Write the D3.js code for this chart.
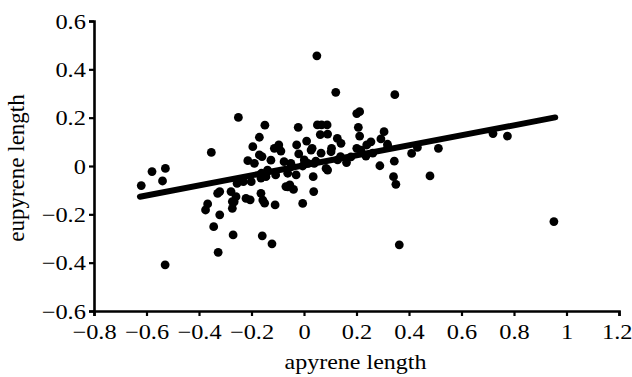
<!DOCTYPE html>
<html>
<head>
<meta charset="utf-8">
<script src="https://cdn.jsdelivr.net/npm/d3@7"></script>
<style>
  body { margin: 0; background: #fff; }
  svg text { font-family: "Liberation Serif", "Times New Roman", serif; fill: #000; }
</style>
</head>
<body>
<svg id="chart" width="632" height="377"></svg>
<script>
// apyrene vs eupyrene length (residuals)
const apyrene = [
  -0.620, -0.579, -0.528, -0.539, -0.529, -0.353, -0.250, -0.375, -0.367, -0.344,
  -0.321, -0.327, -0.329, -0.321, -0.270, -0.273, -0.273, -0.278, -0.259, -0.255,
  -0.231, -0.221, -0.205, -0.214, -0.195, -0.170, -0.201, -0.170, -0.160, -0.149,
  -0.164, -0.157, -0.150, -0.159, -0.122, -0.110, -0.126, -0.113, -0.096, -0.088,
  -0.076, -0.162, -0.164, -0.145, -0.108, -0.069, -0.054, -0.040, -0.049, -0.028,
  -0.020, -0.022, -0.005, 0.010, 0.015, 0.035, 0.037, 0.049, 0.051, 0.067,
  0.062, 0.088, 0.090, 0.121, 0.127, 0.141, 0.090, 0.065, 0.103, 0.139,
  0.162, 0.201, 0.212, 0.207, 0.212, 0.201, 0.236, 0.255, 0.239, 0.289,
  0.293, 0.305, 0.318, 0.346, 0.344, 0.341, 0.350, 0.363, 0.410, 0.432,
  0.480, 0.512, 0.720, 0.775, 0.952, -0.189, -0.050, -0.266, -0.062, -0.062,
  -0.030, 0.027, 0.001, 0.039, 0.128, 0.179, 0.217, 0.262, 0.084, 0.319,
  0.031, 0.105, -0.005, 0.045, -0.139
];
const eupyrene = [
  -0.081, -0.023, -0.010, -0.062, -0.409, 0.056, 0.201, -0.182, -0.157, -0.251,
  -0.202, -0.357, -0.113, -0.106, -0.285, -0.175, -0.147, -0.106, -0.127, -0.072,
  -0.065, -0.134, -0.140, 0.022, 0.080, 0.119, -0.065, 0.046, 0.039, 0.169,
  -0.113, -0.141, -0.154, -0.289, -0.322, -0.161, 0.024, 0.073, 0.087, 0.062,
  0.018, -0.030, -0.050, -0.044, -0.037, -0.085, -0.078, -0.097, -0.003, 0.087,
  0.050, 0.160, -0.155, 0.103, 0.011, -0.044, -0.106, 0.456, 0.170, 0.170,
  0.130, 0.170, 0.132, 0.305, 0.114, 0.094, -0.017, 0.053, 0.059, 0.039,
  0.014, 0.217, 0.225, 0.160, 0.124, 0.073, 0.041, 0.100, 0.087, 0.001,
  0.112, 0.142, 0.090, 0.295, 0.020, -0.044, -0.076, -0.326, 0.052, 0.077,
  -0.041, 0.073, 0.134, 0.124, -0.230, 0.011, 0.011, -0.148, -0.086, -0.030,
  -0.037, 0.066, 0.025, 0.011, 0.025, 0.038, 0.066, 0.053, -0.010, 0.080,
  0.073, 0.073, 0.000, 0.020, -0.017
];
// fitted regression line end points
const fitX = [-0.625, 0.957];
const fitY = [-0.127, 0.201];

const xTicks = [-0.8, -0.6, -0.4, -0.2, 0, 0.2, 0.4, 0.6, 0.8, 1, 1.2];
const yTicks = [-0.6, -0.4, -0.2, 0, 0.2, 0.4, 0.6];

const svg = d3.select('#chart');
const margin = {left: 94, right: 13, top: 21, bottom: 66};
const w = +svg.attr('width'), h = +svg.attr('height');

const x = d3.scaleLinear().domain([-0.8, 1.2]).range([margin.left, w - margin.right]);
const y = d3.scaleLinear().domain([-0.6, 0.6]).range([h - margin.bottom, margin.top]);
const fmt = d3.format('');

const xAxis = svg.append('g')
  .attr('transform', `translate(0,${y(-0.6)})`)
  .call(d3.axisBottom(x).tickValues(xTicks).tickFormat(fmt).tickSizeOuter(0).tickSize(5).tickPadding(8));
const yAxis = svg.append('g')
  .attr('transform', `translate(${x(-0.8)},0)`)
  .call(d3.axisLeft(y).tickValues(yTicks).tickFormat(fmt).tickSizeOuter(0).tickSize(5).tickPadding(2));

[xAxis, yAxis].forEach(a => {
  a.attr('font-family', null);
  a.selectAll('.domain').attr('stroke', '#000').attr('stroke-width', 2.6);
  a.selectAll('.tick line').attr('stroke', '#000').attr('stroke-width', 2.2);
  a.selectAll('.tick text')
    .style('font-family', '"Liberation Serif", "Times New Roman", serif')
    .style('font-size', '21px')
    .attr('fill', '#000');
});
xAxis.selectAll('.tick text').attr('transform', 'scale(1.16,1)');
yAxis.selectAll('.tick text').attr('transform', 'scale(1.16,1)').attr('dy', '0.34em');
// keep the last x label inside the frame
xAxis.selectAll('.tick text').filter(d => d === 1.2).attr('x', -2);

// points
const pts = apyrene.map((a, i) => [a, eupyrene[i]]);
svg.append('g').selectAll('circle').data(pts).enter().append('circle')
  .attr('cx', d => x(d[0]))
  .attr('cy', d => y(d[1]))
  .attr('r', 4.4)
  .attr('fill', '#000');

// regression line
svg.append('path')
  .datum(fitX.map((v, i) => [v, fitY[i]]))
  .attr('d', d3.line().x(d => x(d[0])).y(d => y(d[1])))
  .attr('stroke', '#000')
  .attr('stroke-width', 6)
  .attr('stroke-linecap', 'round')
  .attr('fill', 'none');

// axis titles
svg.append('text')
  .attr('transform', `translate(${(margin.left + w - margin.right) / 2 - 1},${h - 8}) scale(1.2,1)`)
  .attr('text-anchor', 'middle')
  .style('font-size', '20px')
  .text('apyrene length');
svg.append('text')
  .attr('transform', `translate(24,${(margin.top + h - margin.bottom) / 2 + 2}) rotate(-90)`)
  .attr('text-anchor', 'middle')
  .style('font-size', '23px')
  .text('eupyrene length');
</script>
</body>
</html>
